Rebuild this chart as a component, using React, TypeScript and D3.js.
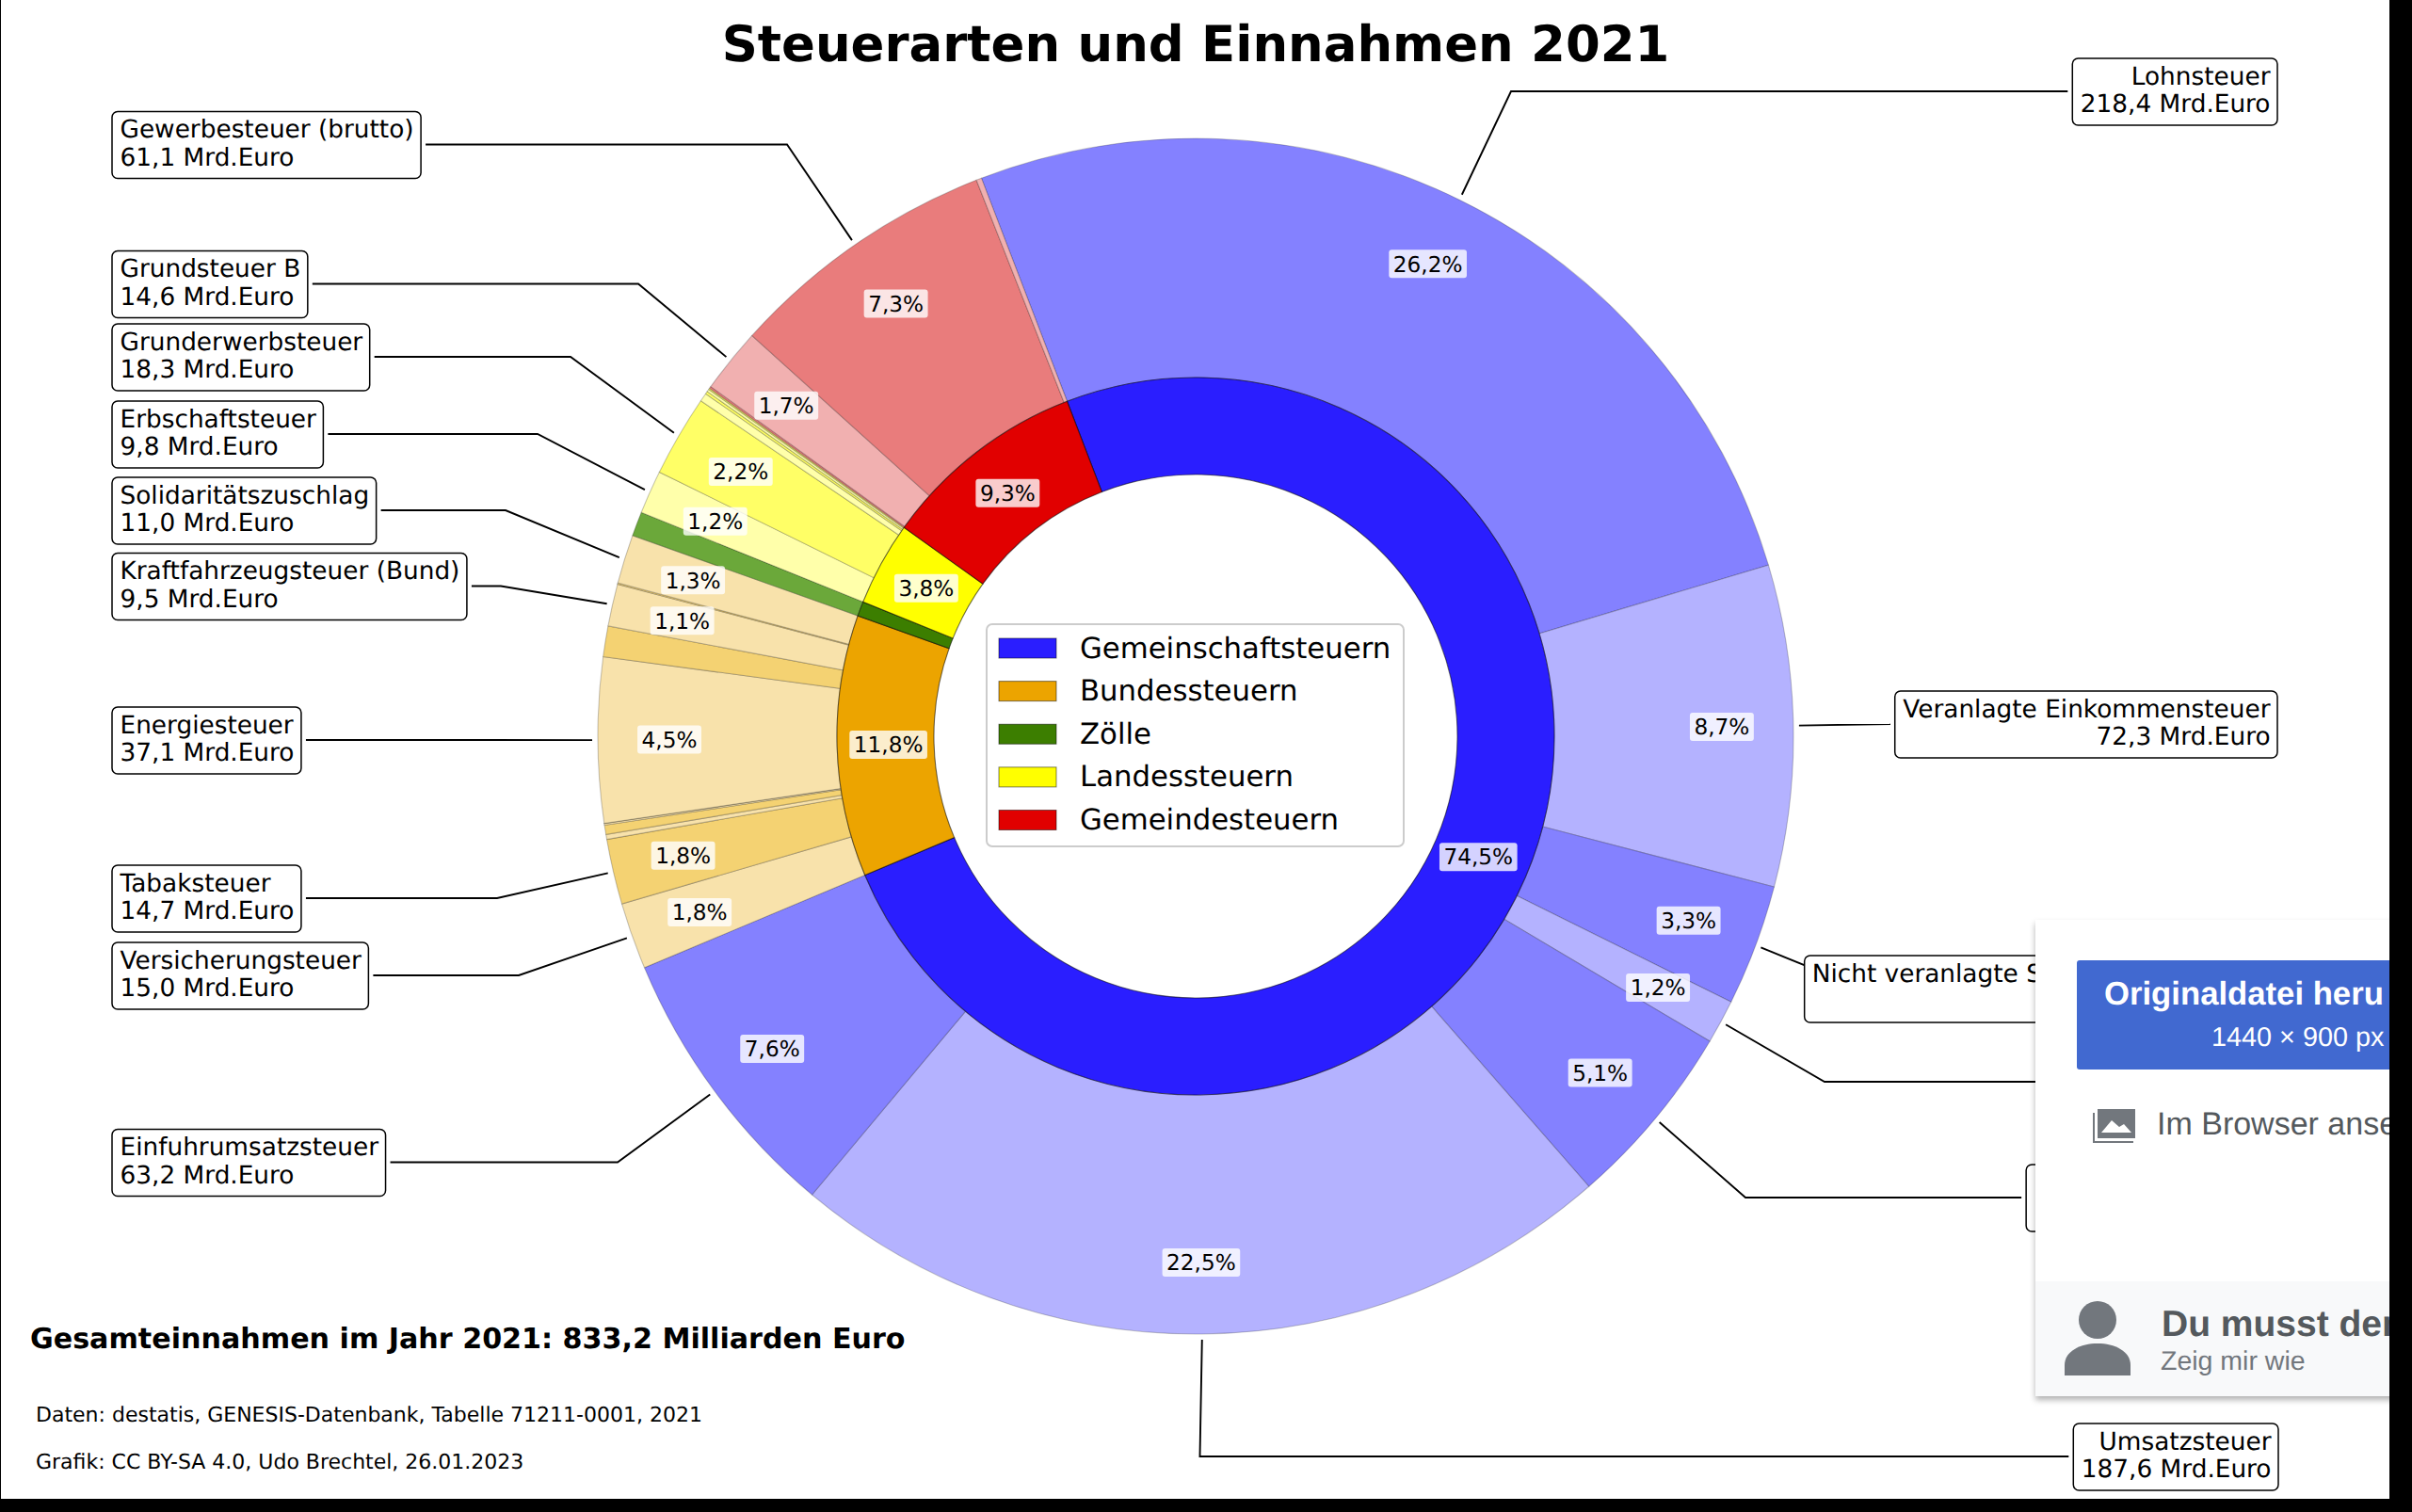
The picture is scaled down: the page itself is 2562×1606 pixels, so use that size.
import { useEffect, useRef } from 'react';
import * as d3 from 'd3';

const WIDTH = 2562;
const HEIGHT = 1606;

// Values in Mrd. Euro, clockwise starting at Lohnsteuer
const groupNames = ['Gemeinschaftsteuern', 'Bundessteuern', 'Zölle', 'Landessteuern', 'Gemeindesteuern'];
const gemeinschaftNames = ['Lohnsteuer', 'Veranlagte Einkommensteuer', 'Nicht veranlagte Steuern vom Ertrag', 'Abgeltungsteuer', 'Körperschaftsteuer', 'Umsatzsteuer', 'Einfuhrumsatzsteuer'];
const gemeinschaftValues = [218.4, 72.3, 27.3, 9.9, 42.1, 187.6, 63.2];
const bundNames = ['Versicherungsteuer', 'Tabaksteuer', 'Kaffeesteuer', 'Alkoholsteuer', 'Schaumweinsteuer', 'Zwischenerzeugnissteuer', 'Energiesteuer', 'Stromsteuer', 'Kraftfahrzeugsteuer (Bund)', 'Luftverkehrsteuer', 'Solidaritätszuschlag'];
const bundValues = [15.0, 14.7, 1.1, 2.1, 0.38, 0.02, 37.1, 6.9, 9.5, 0.3, 11.0];
const zollNames = ['Zölle'];
const zollValues = [5.5];
const landNames = ['Erbschaftsteuer', 'Grunderwerbsteuer', 'Rennwett- und Lotteriesteuer', 'Biersteuer', 'Feuerschutzsteuer', 'Spielbankabgabe'];
const landValues = [9.8, 18.3, 1.9, 0.6, 0.6, 0.3];
const gemeindeNames = ['Grundsteuer A', 'Grundsteuer B', 'Gewerbesteuer (brutto)', 'Übrige Gemeindesteuern'];
const gemeindeValues = [0.45, 14.55, 61.1, 1.2];

const groupColors = ['#2a1eff', '#eca400', '#3c7e00', '#ffff00', '#e10000'];
const darkShade = ['#8481ff', '#f4d272', '#6ba83a', '#ffff66', '#e97c7c'];
const lightShade = ['#b4b2ff', '#f8e2ab', '#6ba83a', '#ffffaa', '#f1b0b0'];
const startsLight = [false, true, false, true, false];

// Annotation boxes: edge = outer x of the box on its side, cy = vertical centre, elbow = x of the leader's bend.
// shown = the only text of the box not hidden under the popup
const labelLayout: { name: string; side: string; edge: number; cy: number; elbow: number; shown?: string }[] = [
  { name: 'Gewerbesteuer (brutto)', side: 'left', edge: 119, cy: 153.5, elbow: 836 },
  { name: 'Grundsteuer B', side: 'left', edge: 119, cy: 301.5, elbow: 678 },
  { name: 'Grunderwerbsteuer', side: 'left', edge: 119, cy: 379, elbow: 606 },
  { name: 'Erbschaftsteuer', side: 'left', edge: 119, cy: 461, elbow: 571 },
  { name: 'Solidaritätszuschlag', side: 'left', edge: 119, cy: 542, elbow: 537 },
  { name: 'Kraftfahrzeugsteuer (Bund)', side: 'left', edge: 119, cy: 622.5, elbow: 532 },
  { name: 'Energiesteuer', side: 'left', edge: 119, cy: 786, elbow: 523 },
  { name: 'Tabaksteuer', side: 'left', edge: 119, cy: 954, elbow: 528 },
  { name: 'Versicherungsteuer', side: 'left', edge: 119, cy: 1036, elbow: 551 },
  { name: 'Einfuhrumsatzsteuer', side: 'left', edge: 119, cy: 1234.5, elbow: 656 },
  { name: 'Lohnsteuer', side: 'right', edge: 2419, cy: 97, elbow: 1605 },
  { name: 'Veranlagte Einkommensteuer', side: 'right', edge: 2419, cy: 769, elbow: 2008 },
  { name: 'Nicht veranlagte Steuern vom Ertrag', side: 'right', edge: 2419, cy: 1050, elbow: 1978, shown: 'Nicht veranlagte S' },
  { name: 'Abgeltungsteuer', side: 'right', edge: 2419, cy: 1149, elbow: 1938, shown: '' },
  { name: 'Körperschaftsteuer', side: 'right', edge: 2419, cy: 1272, elbow: 1854, shown: '' },
  { name: 'Umsatzsteuer', side: 'right', edge: 2420, cy: 1547, elbow: 1274.5 },
];

const comma = (n: number, digits = 1) => n.toFixed(digits).replace('.', ',');

export default function App() {
  const svgRef = useRef<SVGSVGElement>(null);

  useEffect(() => {
    if (!svgRef.current) return;
    const svg = d3.select(svgRef.current);
    svg.selectAll('*').remove();

    const cx = 1270;
    const cy = 782;
    const R = 635;
    const midR = 381;
    const innerR = 278;
    const font = "'DejaVu Sans'";

    svg.append('rect').attr('width', WIDTH).attr('height', HEIGHT).attr('fill', '#fff');

    const groups = [
      { names: gemeinschaftNames, values: gemeinschaftValues },
      { names: bundNames, values: bundValues },
      { names: zollNames, values: zollValues },
      { names: landNames, values: landValues },
      { names: gemeindeNames, values: gemeindeValues },
    ];
    const groupTotals = groups.map(g => d3.sum(g.values));
    const total = d3.sum(groupTotals);

    const outerData = groups.flatMap((g, gi) =>
      g.names.map((name, i) => ({
        name,
        value: g.values[i],
        light: (i % 2 === 0) === startsLight[gi],
        group: gi,
      }))
    );

    const startAngle = (-21 * Math.PI) / 180;
    const pie = d3.pie<any>().sort(null).value(d => d.value).startAngle(startAngle).endAngle(startAngle + 2 * Math.PI);
    const outerArcs = pie(outerData);
    const innerArcs = pie(groupTotals.map((value, group) => ({ value, group })));

    const outerArc = d3.arc<any>().innerRadius(midR).outerRadius(R);
    const innerArc = d3.arc<any>().innerRadius(innerR).outerRadius(midR);

    const chart = svg.append('g').attr('transform', `translate(${cx},${cy})`);

    const polar = (angle: number, r: number): [number, number] => [r * Math.sin(angle), -r * Math.cos(angle)];

    chart.selectAll('path.outer')
      .data(outerArcs)
      .join('path')
      .attr('class', 'outer')
      .attr('d', outerArc as any)
      .attr('fill', d => (d.data.light ? lightShade[d.data.group] : darkShade[d.data.group]))
      .attr('stroke', '#000')
      .attr('stroke-opacity', 0.22)
      .attr('stroke-width', 1.1);

    chart.selectAll('path.inner')
      .data(innerArcs)
      .join('path')
      .attr('class', 'inner')
      .attr('d', innerArc as any)
      .attr('fill', d => groupColors[d.data.group])
      .attr('stroke', '#000')
      .attr('stroke-opacity', 0.55)
      .attr('stroke-width', 1.1);

    // Percent labels with a translucent white box
    const pctLabel = (arcDatum: any, r: number) => {
      const mid = (arcDatum.startAngle + arcDatum.endAngle) / 2;
      const [x, y] = polar(mid, r);
      const pct = `${comma((arcDatum.value / total) * 100)}%`;
      const g = chart.append('g').attr('transform', `translate(${x},${y})`);
      const rect = g.append('rect');
      const text = g.append('text')
        .attr('text-anchor', 'middle')
        .attr('dy', 8.3)
        .attr('font-family', font)
        .attr('font-size', 23.2)
        .attr('fill', '#000')
        .text(pct);
      const w = (text.node() as SVGTextElement).getComputedTextLength() + 9;
      rect.attr('x', -w / 2).attr('y', -15).attr('width', w).attr('height', 30).attr('rx', 3).attr('fill', '#fff').attr('fill-opacity', 0.8);
    };
    outerArcs.filter(d => d.value / total >= 0.01).forEach(d => pctLabel(d, 559));
    innerArcs.filter(d => d.value / total >= 0.01).forEach(d => pctLabel(d, 326.5));

    // Annotation boxes and leader lines
    const annotations = svg.append('g');
    labelLayout.forEach(l => {
      const arcDatum = outerArcs.find(d => d.data.name === l.name)!;
      const [ex, ey] = polar((arcDatum.startAngle + arcDatum.endAngle) / 2, 641);
      const line2 = `${comma(arcDatum.value)} Mrd.Euro`;
      const g = annotations.append('g');
      const path = g.append('path')
        .attr('fill', 'none')
        .attr('stroke', '#000')
        .attr('stroke-width', 1.9);
      const rect = g.append('rect');
      const anchor = l.side === 'left' ? 'start' : 'end';
      const tx = l.side === 'left' ? l.edge + 8.5 : l.edge - 7.5;
      const t1 = g.append('text').attr('x', tx).attr('y', l.cy - 7.5).attr('text-anchor', anchor).attr('font-family', font).attr('font-size', 26.35).text(l.name);
      const t2 = g.append('text').attr('x', tx).attr('y', l.cy + 22).attr('text-anchor', anchor).attr('font-family', font).attr('font-size', 26.35).text(line2);
      const w = Math.max((t1.node() as SVGTextElement).getComputedTextLength(), (t2.node() as SVGTextElement).getComputedTextLength()) + 16;
      const bx = l.side === 'left' ? l.edge : l.edge - w;
      rect.attr('x', bx).attr('y', l.cy - 35).attr('width', w).attr('height', 71).attr('rx', 6)
        .attr('fill', '#fff').attr('stroke', '#000').attr('stroke-width', 1.5);
      const sx = l.side === 'left' ? bx + w + 5 : bx - 5;
      const isCovered = l.elbow > bx && l.elbow < bx + w;
      path.attr('d', d3.line()([[isCovered ? l.elbow : sx, l.cy], [l.elbow, l.cy], [cx + ex, cy + ey]]));
      // the popup lies over these boxes, keep only what stays visible
      if (l.shown !== undefined) {
        t2.remove();
        if (l.shown) t1.attr('text-anchor', 'start').attr('x', bx + 8).text(l.shown);
        else t1.remove();
      }
    });

    // Legend in the hole
    const legend = svg.append('g');
    legend.append('rect').attr('x', 1048).attr('y', 663).attr('width', 443).attr('height', 236).attr('rx', 6)
      .attr('fill', '#fff').attr('fill-opacity', 0.8).attr('stroke', '#ccc').attr('stroke-width', 2);
    const legendY = d3.scalePoint<string>().domain(groupNames).range([688.5, 871]);
    groupNames.forEach((name, i) => {
      legend.append('rect').attr('x', 1061).attr('y', legendY(name)! - 10.5).attr('width', 61).attr('height', 21)
        .attr('fill', groupColors[i]).attr('stroke', '#000').attr('stroke-opacity', 0.5).attr('stroke-width', 1);
      legend.append('text').attr('x', 1147).attr('y', legendY(name)! + 10).attr('font-family', font).attr('font-size', 30.75).text(name);
    });

    // Title and notes
    svg.append('text').attr('x', cx).attr('y', 65).attr('text-anchor', 'middle').attr('font-family', font).attr('font-weight', 700).attr('font-size', 52.9)
      .text('Steuerarten und Einnahmen 2021');
    svg.append('text').attr('x', 32).attr('y', 1432).attr('font-family', font).attr('font-weight', 700).attr('font-size', 30.15)
      .text(`Gesamteinnahmen im Jahr 2021: ${comma(total)} Milliarden Euro`);
    svg.append('text').attr('x', 38).attr('y', 1510).attr('font-family', font).attr('font-size', 22)
      .text('Daten: destatis, GENESIS-Datenbank, Tabelle 71211-0001, 2021');
    svg.append('text').attr('x', 38).attr('y', 1560).attr('font-family', font).attr('font-size', 22)
      .text('Grafik: CC BY-SA 4.0, Udo Brechtel, 26.01.2023');

    // Download popup lying over the right side of the picture
    const defs = svg.append('defs');
    const shadow = defs.append('filter').attr('id', 'popupShadow').attr('x', '-10%').attr('y', '-10%').attr('width', '120%').attr('height', '120%');
    shadow.append('feDropShadow').attr('dx', 0).attr('dy', 4).attr('stdDeviation', 3).attr('flood-color', '#000').attr('flood-opacity', 0.3);
    const popup = svg.append('g');
    const sans = "'Liberation Sans'";
    popup.append('rect').attr('x', 2162).attr('y', 977).attr('width', 400).attr('height', 506).attr('fill', '#fff').attr('filter', 'url(#popupShadow)');
    popup.append('rect').attr('x', 2206).attr('y', 1020).attr('width', 340).attr('height', 116).attr('rx', 3).attr('fill', '#4169d0');
    popup.append('text').attr('x', 2235).attr('y', 1067).attr('font-family', sans).attr('font-weight', 700).attr('font-size', 34.7).attr('fill', '#fff').text('Originaldatei heru');
    popup.append('text').attr('x', 2349).attr('y', 1111).attr('font-family', sans).attr('font-size', 28.8).attr('fill', '#fff').text('1440 × 900 px');
    popup.append('path').attr('d', 'M2224,1182 V1213 H2266').attr('fill', 'none').attr('stroke', '#72777d').attr('stroke-width', 2);
    popup.append('rect').attr('x', 2228).attr('y', 1178).attr('width', 40).attr('height', 31).attr('fill', '#72777d');
    popup.append('path').attr('d', 'M2232,1203 L2243,1190 L2251,1197 L2256,1194 L2264,1203 Z').attr('fill', '#fff');
    popup.append('text').attr('x', 2291).attr('y', 1205).attr('font-family', sans).attr('font-size', 34).attr('fill', '#54595d').text('Im Browser anse');
    popup.append('rect').attr('x', 2162).attr('y', 1361).attr('width', 400).attr('height', 122).attr('fill', '#f8f9fa');
    popup.append('circle').attr('cx', 2228).attr('cy', 1402).attr('r', 20).attr('fill', '#72777d');
    popup.append('path').attr('d', 'M2193,1461 V1450 C2193,1435 2210,1427 2228,1427 C2246,1427 2263,1435 2263,1450 V1461 Z').attr('fill', '#72777d');
    popup.append('text').attr('x', 2296).attr('y', 1419).attr('font-family', sans).attr('font-weight', 700).attr('font-size', 39).attr('fill', '#54595d').text('Du musst den');
    popup.append('text').attr('x', 2295).attr('y', 1455).attr('font-family', sans).attr('font-size', 28.5).attr('fill', '#72777d').text('Zeig mir wie');

    // Black screen edges
    svg.append('rect').attr('x', 0).attr('y', 0).attr('width', 1).attr('height', HEIGHT).attr('fill', '#000');
    svg.append('rect').attr('x', 2538).attr('y', 0).attr('width', WIDTH - 2538).attr('height', HEIGHT).attr('fill', '#000');
    svg.append('rect').attr('x', 0).attr('y', 1592).attr('width', WIDTH).attr('height', HEIGHT - 1592).attr('fill', '#000');
  }, []);

  return (
    <svg
      ref={svgRef}
      width={WIDTH}
      height={HEIGHT}
      viewBox={`0 0 ${WIDTH} ${HEIGHT}`}
      style={{ position: 'absolute', left: 0, top: 0, display: 'block', textRendering: 'geometricPrecision' }}
    />
  );
}
